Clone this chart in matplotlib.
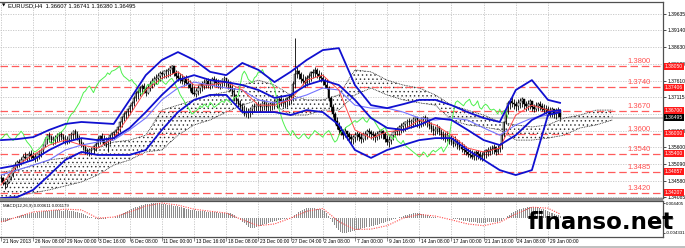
import numpy as np
import matplotlib
matplotlib.use('Agg')
import matplotlib.pyplot as plt
import matplotlib.transforms as mtransforms
from matplotlib.patches import Rectangle

plt.rcParams['font.family'] = ['Liberation Sans', 'DejaVu Sans']
plt.rcParams['hatch.linewidth'] = 0.5
plt.rcParams['hatch.color'] = '#303030'

# EURUSD H4 - цены в пунктах относительно 1.3000 (465 -> 1.3465)
lo = [455,445,432,440,450, 460,470,488,495,500,505,
      515,520,518,522,525,520,515,518,525,530,540,
      560,570,575,570,565,570,575,578,580,575,570,568,572,578,582,585,580,570,560,
      550,540,535,532,535,540,548, 560,570,575,565,560,545,570,580, 585,590,595,
      605,620,640,645,650,660,670,685,700,705,715,720, 725,715,720,730,740,
      745,750,755,760,765,768,770,772,775,780,775,765,760,
      755,750,745,748,740,730,720,715,712,718,725,
      730,735,740,738,735,740,745,742,738,735,740,745,742,735,730,
      715,700,690,680,670,662,655,650,648,652,660,
      665,668,670,665,668,672,670,666,668,672,675,
      678,682,685,680,678,682,688,690, 700,740,770,
      765,755,748,742,745,752,760, 768,772,768,762,758, 748,740,735, 700,670,650,
      630,615,600,595,585,590, 580,575,570,568,575,580,578,572,
      575,580,585,590,585,580,575,580,585,588,
      585,575,565,560,570,580,590,595,598,602,
      605,610,615,620,618,622,625,620,618,622,625,628,622,615,
      605,598,595,600,595, 585,580,575,578,570,565,560,562,555,550,
      545,540,535,530,528,525,520,522,525,520,518,522,528,
      532,535,538,540,535,538,545, 555,590,630,660,675,
      680,675,670,672,678,680,675,670,672,675,
      668,665,668,670,672,668,662, 660,655,650,652,648,645,650,645]
hi = [478,470,458,462,475, 485,500,515,522,525,530,
      540,545,540,548,550,545,538,542,550,556,570,
      590,600,605,598,592,595,602,606,608,600,596,592,600,605,612,615,608,598,588,
      575,565,558,556,560,566,575, 592,598,602,595,590,590,600,606, 610,615,625,
      640,655,665,670,678,690,700,715,730,735,745,750, 755,745,752,760,770,
      775,780,785,790,792,795,798,800,805,810,805,795,790,
      785,780,775,778,770,762,755,745,740,748,755,
      760,765,770,768,765,772,775,770,765,762,768,775,770,765,760,
      750,740,720,710,702,695,688,680,678,682,690,
      695,698,700,695,700,702,698,694,696,700,705,
      708,712,715,710,708,712,718,722, 760,890,805,
      795,788,780,775,778,785,792, 798,803,800,795,788, 780,770,765, 745,715,690,
      665,650,635,625,615,620, 610,605,600,598,605,610,606,602,
      605,610,615,618,612,608,605,610,612,615,
      612,605,598,592,600,610,618,622,628,632,
      635,640,645,648,645,650,655,650,645,650,655,658,652,645,
      635,628,625,630,625, 615,610,605,608,600,595,590,592,585,580,
      575,568,562,558,555,550,548,550,552,548,545,550,555,
      560,562,565,568,562,565,572, 600,640,670,700,710,
      712,705,700,705,708,712,705,700,702,706,
      695,692,696,698,700,695,690, 688,685,680,682,676,678,680,670]
cl = [465,452,448,455,468, 480,495,505,515,512,520,
      530,528,535,540,532,528,530,538,545,550,565,
      585,595,590,580,585,590,598,600,590,585,580,585,595,600,608,600,585,575,568,
      560,548,545,550,555,562,570, 585,592,580,570,575,585,595,602, 605,612,620,
      635,650,660,665,675,685,695,710,725,730,740,745, 735,725,740,750,760,
      765,770,775,785,780,790,792,795,800,805,785,775,770,
      765,760,765,755,750,740,725,720,730,740,750,
      745,755,760,750,750,765,762,755,750,758,765,768,758,745,735,
      720,710,700,690,680,670,660,665,670,675,685,
      680,690,685,680,695,690,680,685,690,695,700,
      695,705,700,695,700,710,712,715, 750,780,790,
      780,765,760,755,770,775,788, 785,795,780,775,770, 760,748,740, 710,680,660,
      640,625,612,605,595,610, 600,590,585,590,598,600,590,585,
      595,600,610,605,600,595,590,600,605,610,
      600,585,575,580,595,605,610,615,622,625,
      630,635,640,635,640,645,650,640,635,645,650,648,635,625,
      615,610,615,620,605, 595,590,585,595,580,575,570,580,565,560,
      555,550,545,540,535,530,535,545,540,530,535,545,550,
      545,550,555,560,545,555,565, 595,635,665,695,700,
      695,690,685,695,700,705,690,685,690,700,
      680,675,685,690,685,675,672, 675,670,660,675,660,670,672,650]

# индикаторы (через каждые 8 баров)
ind_bars = list(range(0, 273, 8)) + [278]
bb_up  = [581,584,590,612,630,636,633,630,703,778,824,848,824,788,778,815,794,757,
          788,824,854,860,748,687,678,690,703,703,687,666,648,636,733,763,703,694]
bb_mid = [496,505,521,551,575,587,581,587,618,666,718,763,778,763,757,748,733,709,
          718,748,763,748,703,648,618,612,627,648,642,612,581,566,596,642,666,672]
bb_low = [405,408,430,475,521,545,536,536,536,551,612,666,703,718,718,666,666,666,
          657,672,666,627,551,527,551,566,581,587,587,551,521,490,475,490,657,666]
kijun  = [475,490,505,521,551,566,575,581,612,648,703,739,757,748,739,733,703,694,
          703,718,739,733,687,678,678,666,648,642,648,642,618,596,627,648,657,666]
tenkan = [445,505,536,566,581,566,557,587,657,733,769,788,748,748,757,733,687,687,
          703,763,778,733,612,587,606,612,642,627,596,557,545,557,657,687,672,666]

cloud_bars = list(range(0, 305, 8))
span_a = [484,490,505,521,527,545,557,575,581,596,672,687,703,718,727,748,763,748,718,703,
          703,718,794,788,763,748,739,718,687,672,657,636,627,621,627,648,657,672,672]
span_b = [405,411,421,430,442,454,475,505,521,545,551,596,627,642,666,687,703,687,657,657,
          672,672,718,739,718,703,694,687,642,627,621,612,581,581,587,596,618,627,642]

# MACD(12,26,9) в единицах 1e-4
macd_hist = [-11,-12,-10,-8,-5,-2,
             1,3,5,7,9,10,11,12,13,14,15,
             16,17,18,19,20,21,21,22,22,23,23,23,23,22,22,23,23,22,21,20,19,18,
             16,14,11,9,6,4,2,0,
             -2,-3,-3,-2,-3,-2,-1,-1,0,1,
             3,5,8,11,14,17,20,23,26,29,31,33,35,37,39,40,41,42,43,44,44,44,
             43,42,41,40,39,38,37,36,35,34,33,31,29,27,26,25,24,23,22,21,
             21,20,20,19,19,18,18,17,17,16,16,15,15,15,14,14,
             12,8,4,0,-5,-10,-15,-20,-25,-29,
             -29,-28,-26,-24,-22,-20,-18,-16,-14,-12,-10,-9,-8,-6,-5,-4,-3,-2,-1,0,
             3,8,13,17,21,24,27,29,30,30,30,29,28,27,26,24,20,
             14,6,-3,-12,-21,-29,-35,-40,-43,-43,-42,-41,-40,-38,-37,-35,-34,-32,-30,-29,
             -27,-25,-24,-22,-20,-19,-17,-15,-13,-11,-9,-7,-5,-3,-2,0,
             2,4,6,8,10,12,13,14,15,15,14,13,12,10,8,6,4,
             3,2,1,1,0,0,-1,-1,0,-1,-2,-3,-4,-5,
             -6,-7,-8,-9,-10,-11,-12,-12,-13,-13,-13,-13,-13,-12,-12,-11,-11,-10,-10,-9,-7,-4,
             0,5,10,14,18,21,24,26,28,29,30,31,32,32,32,32,31,30,
             28,26,24,21,18,15,12,10,8,6]
macd_sig = [-11,3,18,22,26,24,0,3,18,35,44,38,26,20,15,-5,-22,-17,0,20,28,-10,
            -33,-32,-22,0,11,6,-5,-17,-22,-12,12,32,29,12]

levels = [1.3805, 1.37406, 1.3670, 1.3600, 1.3540, 1.34857, 1.34207]
level_txt = ['1.3800', '1.3740', '1.3670', '1.3600', '1.3540', '1.3485', '1.3420']
price_ticks = [1.39635, 1.39140, 1.38630, 1.38120, 1.37610, 1.37115,
               1.36090, 1.35600, 1.35090, 1.34580, 1.34085]
last_price = 1.36495
date_labels = ['21 Nov 2013', '26 Nov 08:00', '29 Nov 00:00', '3 Dec 16:00', '6 Dec 08:00',
               '11 Dec 00:00', '13 Dec 16:00', '18 Dec 08:00', '23 Dec 00:00', '27 Dec 04:00',
               '2 Jan 08:00', '7 Jan 00:00', '9 Jan 16:00', '14 Jan 08:00', '17 Jan 00:00',
               '21 Jan 16:00', '24 Jan 08:00', '29 Jan 00:00']

def pr(a):
    return 1.3 + np.array(a, dtype=float) / 10000.0

W, H = 685, 248
fig = plt.figure(figsize=(W / 100, H / 100), dpi=100)
fig.patch.set_facecolor('white')

def fy(py):
    return 1 - py / H

ax = fig.add_axes([0, fy(198), 663 / W, 196 / H])
am = fig.add_axes([0, fy(237), 663 / W, 36 / H], sharex=ax)

n = len(cl)
idx = np.arange(n)
lo_p, hi_p, cl_p = pr(lo), pr(hi), pr(cl)
op_p = np.r_[cl_p[0], cl_p[:-1]]
xticks = [16 * k for k in range(len(date_labels))]

ax.set_xlim(-0.5, 329.2)
ax.set_ylim(1.34054, 1.39999)
am.set_ylim(-55.0, 49.9)

gridc = '#c4c4c4'
for b in xticks:
    ax.axvline(b, color=gridc, lw=0.6, ls=(0, (1.5, 1.5)), zorder=0)
    am.axvline(b, color=gridc, lw=0.6, ls=(0, (1.5, 1.5)), zorder=0)
for v in price_ticks + [1.36600]:
    ax.axhline(v, color=gridc, lw=0.6, ls=(0, (1.5, 1.5)), zorder=0)

ax.axhline(last_price, color='#c8c8c8', lw=1.3, zorder=1)

# облако Ишимоку
cb = np.array(cloud_bars)
ax.fill_between(cb, pr(span_a), pr(span_b), facecolor='none', edgecolor='#303030',
                hatch='....', lw=0, zorder=1)
ax.plot(cb, pr(span_a), color='#202020', lw=0.6, ls=(0, (1, 1)), zorder=1)
ax.plot(cb, pr(span_b), color='#202020', lw=0.6, ls=(0, (1, 1)), zorder=1)

for v, t in zip(levels, level_txt):
    ax.axhline(v, color='#ff5c5c', lw=0.9, ls=(0, (6, 3)), zorder=2)
    ax.text(0.982, v + 0.0003, t, transform=ax.get_yaxis_transform(), color='#ff5050',
            fontsize=5.5, ha='right', va='bottom', zorder=6)

# свечи
ax.vlines(idx, lo_p, hi_p, color='black', lw=0.6, zorder=3)
up = cl_p >= op_p
ax.bar(idx[up], (cl_p - op_p)[up], bottom=op_p[up], width=0.7, color='white',
       edgecolor='black', lw=0.35, zorder=4)
ax.bar(idx[~up], (cl_p - op_p)[~up], bottom=op_p[~up], width=0.7, color='black',
       edgecolor='black', lw=0.35, zorder=4)

ib = np.array(ind_bars)
ax.plot(ib, pr(kijun), color='#7373ff', lw=0.8, zorder=5)
ax.plot(ib, pr(tenkan), color='#ff4a4a', lw=0.7, zorder=5)
ax.plot(idx[26:] - 26, cl_p[26:], color='#4ef04e', lw=0.7, zorder=5)
for band in (bb_up, bb_mid, bb_low):
    ax.plot(ib, pr(band), color='#1010d0', lw=1.3, zorder=5)

# шкала цен справа
ax.yaxis.tick_right()
ax.set_yticks(price_ticks)
ax.set_yticklabels(['%.5f' % v for v in price_ticks])
ax.tick_params(axis='y', length=2, pad=1, labelsize=3.6, width=0.5)
ax.tick_params(axis='x', bottom=False, labelbottom=False)
for v in levels:
    ax.text(1.003, v, '%.5f' % v, transform=ax.get_yaxis_transform(), color='white',
            fontsize=3.6, ha='left', va='center', clip_on=False, zorder=10,
            bbox=dict(boxstyle='square,pad=0.2', fc='#ff1a1a', ec='none'))
ax.text(1.003, last_price, '%.5f' % last_price, transform=ax.get_yaxis_transform(),
        color='white', fontsize=3.6, ha='left', va='center', clip_on=False, zorder=10,
        bbox=dict(boxstyle='square,pad=0.2', fc='black', ec='none'))

# MACD
am.bar(idx, np.array(macd_hist[:n]), width=0.5, color='#8c8c8c', zorder=2)
am.plot(ib, macd_sig, color='#ff4a4a', lw=0.8, ls=(0, (1, 1.2)), zorder=3)
am.yaxis.tick_right()
am.set_yticks([44.05, 0, -43.31])
am.set_yticklabels(['0.004405', '0.00', '-0.004331'])
am.tick_params(axis='y', length=1.5, pad=0.5, labelsize=3.2, width=0.5)
am.set_xticks(xticks)
am.tick_params(axis='x', length=3, width=0.5, labelbottom=False, color='#606060')
trans = mtransforms.blended_transform_factory(am.transData, am.transAxes)
for b, t in zip(xticks, date_labels):
    am.text(b + 0.8, -0.05, t, transform=trans, fontsize=3.5, ha='left', va='top',
            clip_on=False)

for a in (ax, am):
    for s in a.spines.values():
        s.set_color('#505050')
        s.set_linewidth(0.9)
    a.spines['left'].set_visible(False)

fig.patches.append(Rectangle((0, fy(201)), 663 / W, 3 / H, transform=fig.transFigure,
                             fc='#8a8a8a', ec='none'))
fig.patches.append(Rectangle((40 / W, 0), 645 / W, 2.5 / H, transform=fig.transFigure,
                             fc='#c0c0c0', ec='none'))

fig.text(2 / W, fy(5.5), '\u25bc', fontsize=3.2, va='center', ha='left',
         family=['DejaVu Sans'])
fig.text(8 / W, fy(5.5), 'EURUSD,H4  1.36607 1.36741 1.36380 1.36495', fontsize=4.2,
         va='center', ha='left')
fig.text(3 / W, fy(205.5), 'MACD(12,26,9) 0.000611 0.001179', fontsize=3.1,
         va='center', ha='left')
fig.text(528 / W, fy(229), 'finanso.net', fontsize=16.5, fontweight='bold',
         color='black', va='baseline', ha='left', zorder=20, family=['DejaVu Sans'])

fig.savefig('out.png', dpi=100)
